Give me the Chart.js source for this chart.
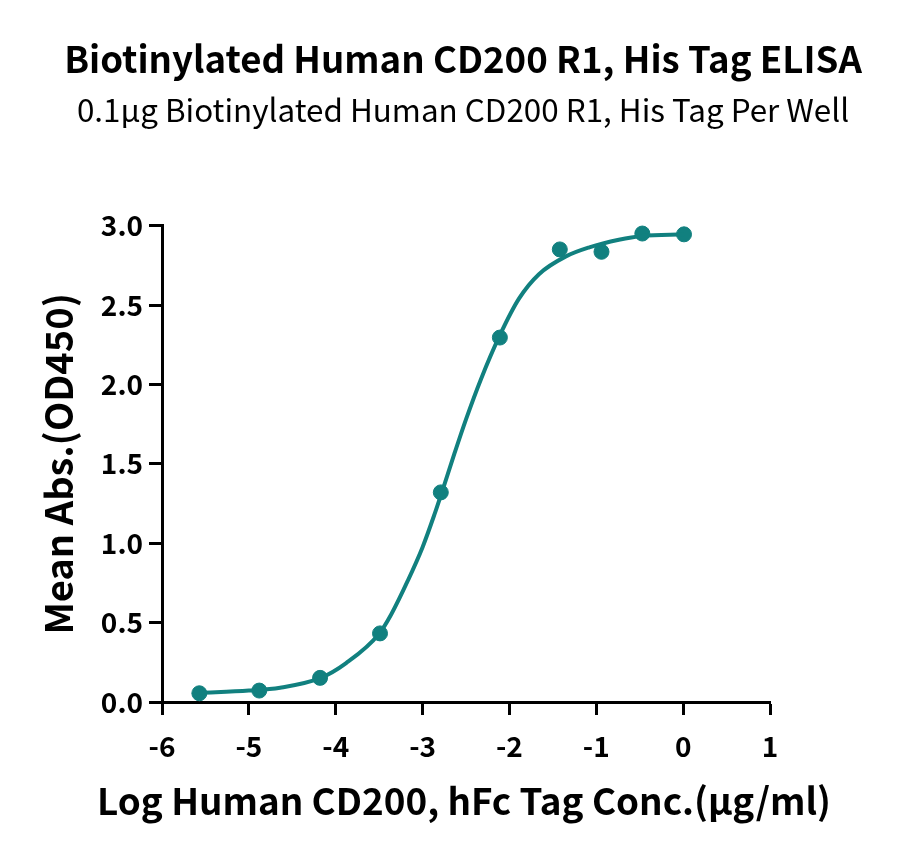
<!DOCTYPE html>
<html>
<head>
<meta charset="utf-8">
<script src="https://cdn.jsdelivr.net/npm/chart.js@4"></script>
<style>
  html, body { margin: 0; padding: 0; background: #fff; }
  #wrap { width: 900px; height: 859px; }
</style>
</head>
<body>
<div id="wrap"><canvas id="elisaChart"></canvas></div>
<script>
// measured points: log conc (ug/ml) vs mean OD450
const logConc = [-5.57, -4.88, -4.18, -3.49, -2.79, -2.11, -1.42, -0.94, -0.47, 0.01];
const meanAbs = [0.055, 0.072, 0.152, 0.432, 1.32, 2.295, 2.85, 2.835, 2.95, 2.945];

// fitted curve
const fitX = [-5.57, -5.0, -4.64, -4.18, -3.88, -3.5, -3.36, -3.17, -3.0, -2.86, -2.79, -2.63, -2.5, -2.33, -2.11, -1.89, -1.66, -1.35, -1.08, -0.74, -0.47, 0.01];
const fitY = [0.058, 0.072, 0.09, 0.15, 0.245, 0.43, 0.553, 0.764, 0.975, 1.186, 1.3, 1.57, 1.78, 2.03, 2.31, 2.54, 2.694, 2.806, 2.863, 2.911, 2.935, 2.945];

const xTicks = [-6, -5, -4, -3, -2, -1, 0, 1];
const yTicks = [0, 0.5, 1.0, 1.5, 2.0, 2.5, 3.0];
const xTitle = 'Log Human CD200, hFc Tag Conc.(μg/ml)';

const teal = '#11807f';
const fontFam = '"Noto Sans CJK SC", "Noto Sans", sans-serif';

// x title is wider than the plot area in the original, so it is drawn here
// instead of by the scale (which would squeeze it to the axis width)
const wideXTitle = {
    id: 'wideXTitle',
    afterDraw(chart, args, options) {
        const c = chart.ctx;
        c.save();
        c.fillStyle = options.color;
        c.font = 'bold ' + options.size + 'px ' + fontFam;
        c.textAlign = 'center';
        c.textBaseline = 'middle';
        c.fillText(options.text, options.x, options.y);
        c.restore();
    }
};

const ctx = document.getElementById('elisaChart').getContext('2d');

new Chart(ctx, {
    type: 'scatter',
    data: {
        datasets: [
            {
                label: 'Fit',
                type: 'line',
                data: fitX.map((x, i) => ({x: x, y: fitY[i]})),
                borderColor: teal,
                borderWidth: 4,
                pointRadius: 0,
                fill: false,
                cubicInterpolationMode: 'monotone',
                clip: false
            },
            {
                label: 'Mean Abs.',
                data: logConc.map((x, i) => ({x: x, y: meanAbs[i]})),
                backgroundColor: teal,
                borderColor: teal,
                pointRadius: 7.5,
                pointHoverRadius: 7.5,
                clip: false
            }
        ]
    },
    options: {
        responsive: true,
        maintainAspectRatio: false,
        animation: false,
        layout: {
            padding: {left: 26, right: 0, top: 0, bottom: 30}
        },
        plugins: {
            legend: {display: false},
            tooltip: {enabled: false},
            title: {
                display: true,
                text: 'Biotinylated Human CD200 R1, His Tag ELISA',
                color: '#000',
                font: {family: fontFam, size: 36.6, weight: 'bold'},
                padding: {top: 37, bottom: 10}
            },
            subtitle: {
                display: true,
                text: '0.1μg Biotinylated Human CD200 R1, His Tag Per Well',
                color: '#000',
                font: {family: fontFam, size: 31.4},
                padding: {top: 0, bottom: 97}
            },
            wideXTitle: {
                text: xTitle,
                color: '#000',
                size: 36.8,
                x: 464,
                y: 801
            }
        },
        scales: {
            x: {
                type: 'linear',
                min: -6,
                max: 1,
                afterBuildTicks: (scale) => { scale.ticks = xTicks.map(v => ({value: v})); },
                afterFit: (scale) => { scale.height = 859 - 702 - 30; },
                border: {display: true, color: '#000', width: 3},
                grid: {drawOnChartArea: false, drawTicks: true, tickLength: 13, tickColor: '#000', tickWidth: 3},
                ticks: {
                    color: '#000',
                    padding: 15,
                    font: {family: fontFam, size: 28, weight: 'bold'},
                    callback: (v) => String(v)
                },
                title: {display: false}
            },
            y: {
                type: 'linear',
                min: 0,
                max: 3,
                afterBuildTicks: (scale) => { scale.ticks = yTicks.map(v => ({value: v})); },
                afterFit: (scale) => { scale.width = 162 - 26; },
                border: {display: true, color: '#000', width: 3},
                grid: {drawOnChartArea: false, drawTicks: true, tickLength: 13, tickColor: '#000', tickWidth: 3},
                ticks: {
                    color: '#000',
                    padding: 6,
                    font: {family: fontFam, size: 28, weight: 'bold'},
                    callback: (v) => v.toFixed(1)
                },
                title: {
                    display: true,
                    text: 'Mean Abs.(OD450)',
                    color: '#000',
                    font: {family: fontFam, size: 38, weight: 'bold'},
                    padding: {top: 10, bottom: 0}
                }
            },
            // empty right-hand box, keeps the plot area where it is in the original
            yRight: {
                type: 'linear',
                position: 'right',
                min: 0,
                max: 3,
                afterFit: (scale) => { scale.width = 130; },
                border: {display: false},
                grid: {display: false},
                ticks: {display: false}
            }
        }
    },
    plugins: [wideXTitle]
});
</script>
</body>
</html>
